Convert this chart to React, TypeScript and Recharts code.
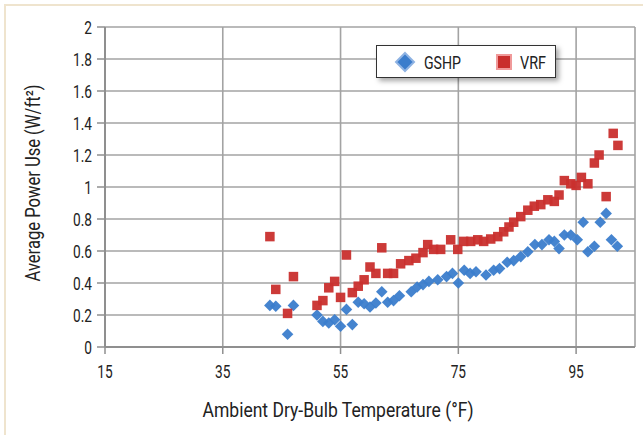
import React from 'react'
import {
  ScatterChart,
  Scatter,
  XAxis,
  YAxis,
  CartesianGrid,
  Label,
} from 'recharts'

/* ─── Data ─── */

const gshpTemp = [
  43, 44, 46, 47, 51, 52, 53, 54, 55, 56, 57, 58, 59, 60, 61, 62, 63, 64, 65, 67, 68,
  69, 70, 71.5, 73, 74, 75, 76, 77, 78, 79.7, 81, 82, 83.3, 84.4, 85.6, 86.8, 88, 89.2,
  90.4, 91.3, 92.1, 93, 94.1, 95.2, 96.2, 97, 98.1, 99.1, 100.1, 101, 102,
]
const gshpPower = [
  0.26, 0.255, 0.08, 0.26, 0.2, 0.16, 0.15, 0.17, 0.13, 0.235, 0.14, 0.28, 0.27, 0.25,
  0.275, 0.345, 0.28, 0.29, 0.32, 0.345, 0.375, 0.39, 0.41, 0.42, 0.44, 0.46, 0.4, 0.48,
  0.46, 0.47, 0.45, 0.48, 0.49, 0.53, 0.54, 0.565, 0.595, 0.64, 0.64, 0.67, 0.66, 0.615,
  0.7, 0.7, 0.67, 0.78, 0.595, 0.63, 0.78, 0.835, 0.67, 0.63,
]

const vrfTemp = [
  43, 44, 46, 47, 51, 52, 53, 54, 55, 56, 57, 58, 59, 60, 61, 62, 63, 64, 65.2, 66.6,
  67.8, 69, 69.8, 70.8, 72, 73.7, 74.9, 75.9, 77.1, 78.3, 79.3, 80.5, 81.7, 82.7, 83.6,
  84.4, 85.6, 86.8, 87.9, 89, 90.2, 91.3, 92.1, 93, 94.1, 95, 95.9, 97, 98.1, 98.9, 100.1,
  101.3, 102.1,
]
const vrfPower = [
  0.69, 0.36, 0.21, 0.44, 0.26, 0.29, 0.37, 0.41, 0.31, 0.575, 0.34, 0.38, 0.42, 0.5,
  0.46, 0.62, 0.46, 0.46, 0.52, 0.54, 0.555, 0.59, 0.64, 0.61, 0.61, 0.67, 0.61, 0.66,
  0.66, 0.67, 0.66, 0.675, 0.69, 0.72, 0.75, 0.78, 0.815, 0.855, 0.88, 0.89, 0.92, 0.91,
  0.95, 1.04, 1.02, 1.01, 1.06, 1.02, 1.15, 1.2, 0.94, 1.335, 1.26,
]

const xTicks = [15, 35, 55, 75, 95]
const yTicks = [0, 0.2, 0.4, 0.6, 0.8, 1, 1.2, 1.4, 1.6, 1.8, 2]

const gshpData = gshpTemp.map((t, i) => ({ x: t, y: gshpPower[i] }))
const vrfData = vrfTemp.map((t, i) => ({ x: t, y: vrfPower[i] }))

/* ─── Styles ─── */

// no condensed face installed, so Roboto gets squeezed horizontally
const FONT = 'Roboto, "Noto Sans", sans-serif'
const SQUEEZE = 0.72
const BLUE = '#3b7dcc'
const RED = '#c92f2d'
const GRID = '#a3a3a3'
const AXIS = '#8f8f8f'
const INK = '#222'

/* ─── Marker shapes ─── */

function Diamond({ cx, cy }: any) {
  if (cx == null || cy == null) return null
  const r = 5.8
  return (
    <polygon
      points={`${cx},${cy - r} ${cx + r},${cy} ${cx},${cy + r} ${cx - r},${cy}`}
      fill={BLUE}
      fillOpacity={0.95}
    />
  )
}

function Square({ cx, cy }: any) {
  if (cx == null || cy == null) return null
  const s = 9.5
  return <rect x={cx - s / 2} y={cy - s / 2} width={s} height={s} fill={RED} fillOpacity={0.95} />
}

/* ─── Condensed tick labels ─── */

function XTick({ x, y, payload }: any) {
  return (
    <g transform={`translate(${x},${y})`}>
      <text transform={`scale(${SQUEEZE},1)`} textAnchor="middle" dy="0.71em" fontSize={19} fontFamily={FONT} fill={INK}>
        {payload.value}
      </text>
    </g>
  )
}

function YTick({ x, y, payload }: any) {
  return (
    <g transform={`translate(${x},${y})`}>
      <text transform={`scale(${SQUEEZE},1)`} textAnchor="end" dy="0.36em" fontSize={19} fontFamily={FONT} fill={INK}>
        {String(payload.value)}
      </text>
    </g>
  )
}

/* ─── Axis titles ─── */

function XTitle({ viewBox }: any) {
  const cx = viewBox.x + viewBox.width / 2 - 32
  return (
    <text
      x={cx}
      y={417}
      textAnchor="middle"
      fontSize={21}
      fontFamily={FONT}
      fill={INK}
      textLength={271}
      lengthAdjust="spacingAndGlyphs"
    >
      Ambient Dry-Bulb Temperature (°F)
    </text>
  )
}

function YTitle({ viewBox }: any) {
  const cx = viewBox.x + 33
  const cy = viewBox.y + viewBox.height / 2 - 4
  return (
    <text
      x={cx}
      y={cy}
      transform={`rotate(-90, ${cx}, ${cy})`}
      textAnchor="middle"
      dy="0.36em"
      fontSize={20}
      fontFamily={FONT}
      fill={INK}
      textLength={197}
      lengthAdjust="spacingAndGlyphs"
    >
      Average Power Use (W/ft²)
    </text>
  )
}

/* ─── Legend ─── */

function ChartLegend() {
  return (
    <div
      style={{
        position: 'absolute',
        left: 376,
        top: 45,
        width: 180,
        height: 33,
        background: '#fff',
        border: '1px solid #333',
        boxShadow: '3px 3px 5px rgba(0,0,0,0.35)',
        boxSizing: 'border-box',
      }}
    >
      <svg width={178} height={31}>
        <polygon points="28,7 37,16 28,25 19,16" fill={BLUE} stroke="#8fb3e3" strokeWidth={2} />
        <text x={47} y={23} fontFamily={FONT} fontSize={19} fill={INK} textLength={37} lengthAdjust="spacingAndGlyphs">
          GSHP
        </text>
        <rect x={120} y={9} width={14} height={14} fill={RED} stroke="#f09a9a" strokeWidth={2} />
        <text x={143} y={23} fontFamily={FONT} fontSize={19} fill={INK} textLength={26} lengthAdjust="spacingAndGlyphs">
          VRF
        </text>
      </svg>
    </div>
  )
}

/* ─── Main component ─── */

export default function App() {
  return (
    <div style={{ position: 'absolute', left: 0, top: 0, width: 643, height: 435, background: '#fff', overflow: 'hidden' }}>
      <div
        style={{
          position: 'absolute',
          left: 4,
          top: 4,
          right: -10,
          bottom: -10,
          borderTop: '2px solid #efe4ce',
          borderLeft: '2px solid #efe4ce',
        }}
      />
      <ScatterChart
        width={643}
        height={435}
        margin={{ top: 27, right: 8, left: 0, bottom: 0 }}
        style={{ position: 'absolute', left: 0, top: 0 }}
      >
        <CartesianGrid stroke={GRID} strokeWidth={1.6} />
        <XAxis
          type="number"
          dataKey="x"
          domain={[15, 105]}
          ticks={xTicks}
          interval={0}
          height={88}
          tick={<XTick />}
          tickSize={7}
          tickMargin={10}
          axisLine={{ stroke: AXIS, strokeWidth: 2 }}
          tickLine={{ stroke: AXIS, strokeWidth: 1.5 }}
        >
          <Label content={<XTitle />} />
        </XAxis>
        <YAxis
          type="number"
          dataKey="y"
          domain={[0, 2]}
          ticks={yTicks}
          interval={0}
          width={105}
          tick={<YTick />}
          tickSize={8}
          tickMargin={5}
          axisLine={{ stroke: AXIS, strokeWidth: 2 }}
          tickLine={{ stroke: AXIS, strokeWidth: 1.5 }}
        >
          <Label content={<YTitle />} />
        </YAxis>
        <Scatter name="GSHP" data={gshpData} shape={<Diamond />} isAnimationActive={false} />
        <Scatter name="VRF" data={vrfData} shape={<Square />} isAnimationActive={false} />
      </ScatterChart>
      <ChartLegend />
    </div>
  )
}
